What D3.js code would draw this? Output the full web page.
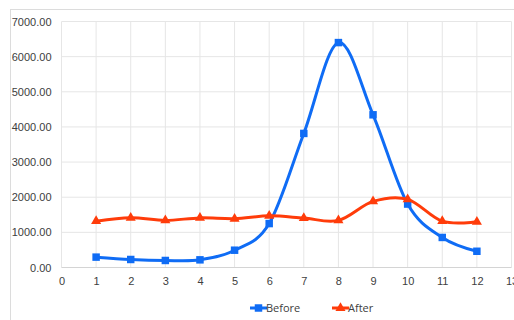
<!DOCTYPE html>
<html>
<head>
<meta charset="utf-8">
<script src="https://cdn.jsdelivr.net/npm/d3@7"></script>
<style>
  html, body { margin: 0; padding: 0; background: #fff; }
  svg { display: block; font-family: "Open Sans", "Liberation Sans", sans-serif; }
</style>
</head>
<body>
<svg id="chart" width="514" height="320"></svg>
<script>
// Monthly readings before and after the change
const months = [1, 2, 3, 4, 5, 6, 7, 8, 9, 10, 11, 12];
const beforeValues = [295, 228, 200, 218, 492, 1250, 3815, 6400, 4345, 1805, 855, 462];
const afterValues = [1318, 1415, 1340, 1412, 1388, 1470, 1408, 1340, 1880, 1940, 1318, 1300];
const xTicks = [0, 1, 2, 3, 4, 5, 6, 7, 8, 9, 10, 11, 12, 13];
const yTicks = [0, 1000, 2000, 3000, 4000, 5000, 6000, 7000];
const seriesNames = ["Before", "After"];
const seriesColors = ["#0f6cf5", "#ff3c0a"];

const svg = d3.select("#chart");

// outer chart frame
svg.append("rect")
  .attr("x", 10.5).attr("y", 9.5)
  .attr("width", 520).attr("height", 330)
  .attr("fill", "#fff").attr("stroke", "#dcdcdc");

const x = d3.scaleLinear().domain([0, 13]).range([61.5, 511.5]);
const y = d3.scaleLinear().domain([0, 7000]).range([267.5, 21.5]);

// gridlines
const grid = svg.append("g");
grid.selectAll("line.v").data(xTicks).join("line")
  .attr("class", "v")
  .attr("x1", d => x(d)).attr("x2", d => x(d))
  .attr("y1", y(7000)).attr("y2", y(0))
  .attr("stroke", "#e6e6e6").attr("stroke-width", 1);
grid.selectAll("line.h").data(yTicks).join("line")
  .attr("class", "h")
  .attr("x1", x(0)).attr("x2", x(13))
  .attr("y1", d => y(d)).attr("y2", d => y(d))
  .attr("stroke", d => d === 0 ? "#d4d4d4" : "#e6e6e6").attr("stroke-width", 1);

// axes (labels only)
const yAxis = svg.append("g")
  .attr("transform", `translate(${x(0) - 10},0)`)
  .call(d3.axisLeft(y).tickValues(yTicks).tickFormat(d3.format(".2f")).tickSize(0).tickPadding(0));
yAxis.select(".domain").remove();
yAxis.selectAll("text").attr("fill", "#404040").attr("font-size", 11);

const xAxis = svg.append("g")
  .attr("transform", `translate(0,${y(0) + 8})`)
  .call(d3.axisBottom(x).tickValues(xTicks).tickFormat(d3.format("d")).tickSize(0).tickPadding(2));
xAxis.select(".domain").remove();
xAxis.selectAll("text").attr("fill", "#404040").attr("font-size", 11);

// smoothed series lines
const line = d3.line()
  .x((d, i) => x(months[i]))
  .y(d => y(d))
  .curve(d3.curveCardinal.tension(0));

const series = [beforeValues, afterValues];

series.forEach((vals, s) => {
  svg.append("path")
    .datum(vals)
    .attr("d", line)
    .attr("fill", "none")
    .attr("stroke", seriesColors[s])
    .attr("stroke-width", 3)
    .attr("stroke-linejoin", "round");
});

const squareSym = d3.symbol().type(d3.symbolSquare).size(56);
const triSym = d3.symbol().type(d3.symbolTriangle).size(44);

series.forEach((vals, s) => {
  svg.append("g").selectAll("path").data(vals).join("path")
    .attr("transform", (d, i) => `translate(${x(months[i])},${y(d)})`)
    .attr("d", s === 0 ? squareSym : triSym)
    .attr("fill", seriesColors[s]);
});

// legend
const legendItems = [
  { name: seriesNames[0], color: seriesColors[0], sym: squareSym, x0: 250 },
  { name: seriesNames[1], color: seriesColors[1], sym: triSym, x0: 332 }
];
const ly = 308;
const lg = svg.append("g");
legendItems.forEach(it => {
  lg.append("line")
    .attr("x1", it.x0).attr("x2", it.x0 + 17)
    .attr("y1", ly).attr("y2", ly)
    .attr("stroke", it.color).attr("stroke-width", 3);
  lg.append("path")
    .attr("transform", `translate(${it.x0 + 8.5},${ly})`)
    .attr("d", it.sym)
    .attr("fill", it.color);
  lg.append("text")
    .attr("x", it.x0 + 16).attr("y", ly + 4)
    .attr("font-size", 11).attr("fill", "#404040")
    .text(it.name);
});
</script>
</body>
</html>
